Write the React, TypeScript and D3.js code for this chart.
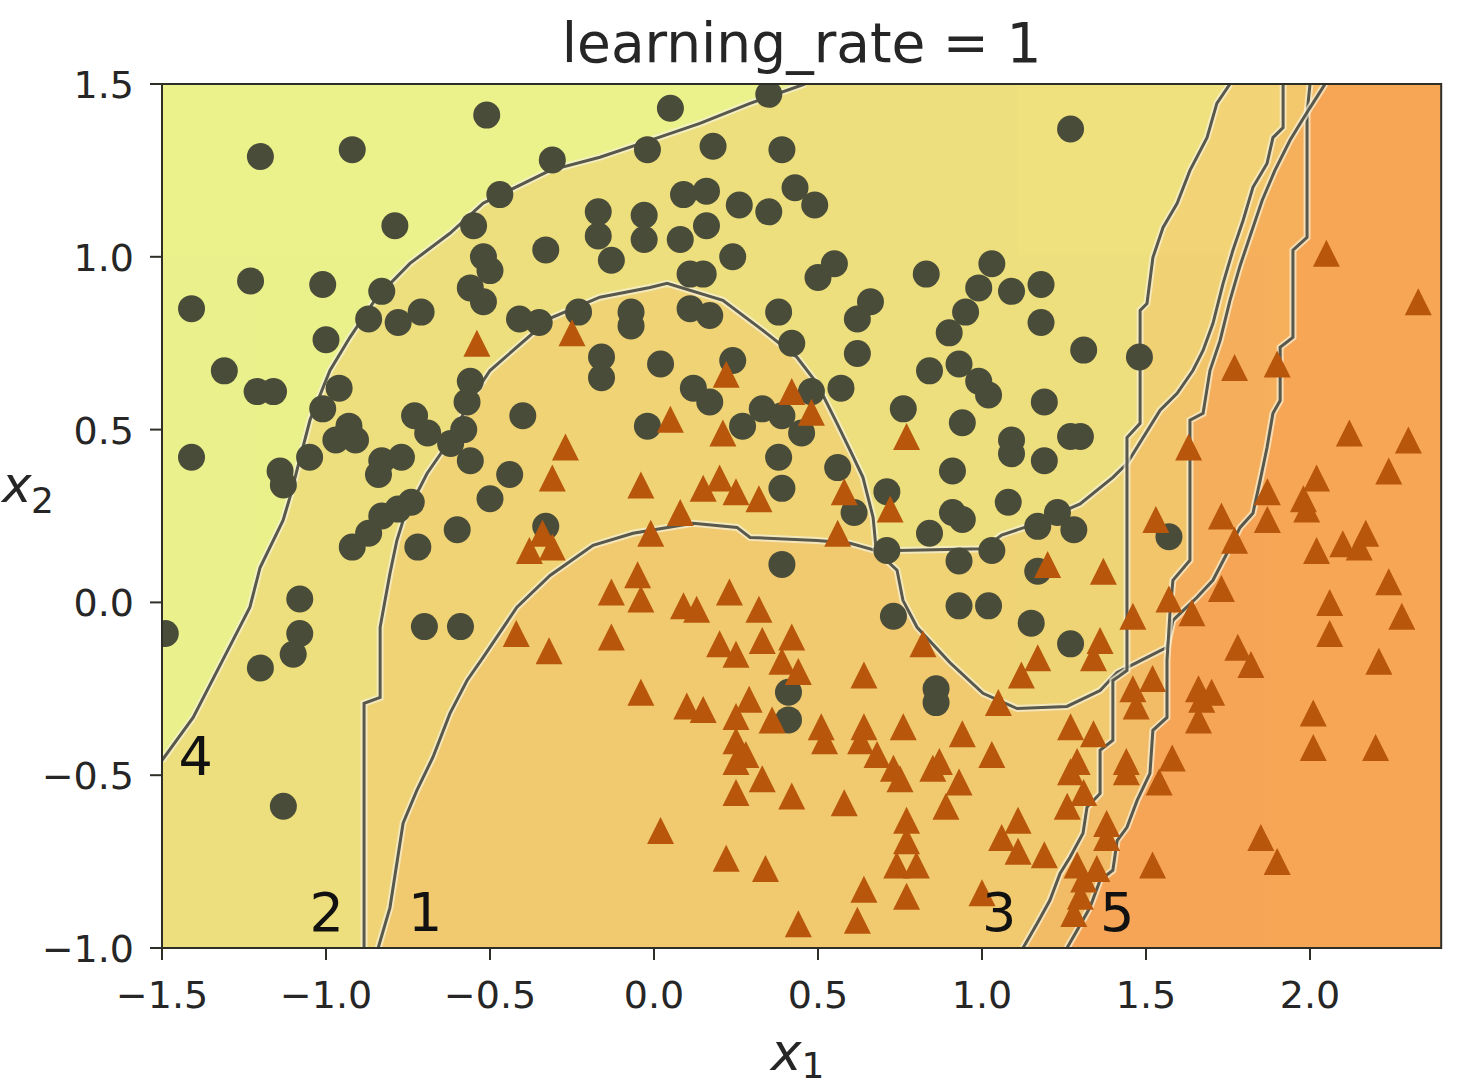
import React from 'react';
import * as d3 from 'd3';

const W = 1468;
const H = 1087;

const xDomain: [number, number] = [-1.5, 2.4];
const yDomain: [number, number] = [-1, 1.5];
const xTicks = [-1.5, -1.0, -0.5, 0.0, 0.5, 1.0, 1.5, 2.0];
const yTicks = [-1.0, -0.5, 0.0, 0.5, 1.0, 1.5];
const title = 'learning_rate = 1';

// decision boundaries of the 5 successive predictors (data coords)
const boundary1 = [
  [-0.841, -1], [-0.805, -0.883], [-0.765, -0.639], [-0.723, -0.544], [-0.674, -0.448], [-0.622, -0.321],
  [-0.57, -0.226], [-0.521, -0.159], [-0.418, -0.014], [-0.317, 0.078], [-0.186, 0.165], [-0.064, 0.2],
  [0.119, 0.229], [0.253, 0.217], [0.293, 0.188], [0.497, 0.179], [0.598, 0.171], [0.677, 0.15],
  [0.741, 0.093], [0.759, 0.006], [0.802, -0.072], [0.902, -0.174], [1.003, -0.263], [1.107, -0.307],
  [1.259, -0.301], [1.36, -0.255], [1.412, -0.203], [1.503, -0.159], [1.564, -0.13], [1.582, -0.052],
  [1.655, 0.014], [1.704, 0.064], [1.756, 0.159], [1.787, 0.217], [1.826, 0.258], [1.848, 0.353],
  [1.869, 0.448], [1.887, 0.547], [1.909, 0.584], [1.909, 0.738], [1.948, 0.767], [1.948, 1.019],
  [1.991, 1.056], [1.991, 1.415], [2.0, 1.5],
];
const boundary2 = [
  [-0.884, -1], [-0.884, -0.292], [-0.835, -0.275], [-0.835, -0.072], [-0.805, 0.084], [-0.784, 0.179],
  [-0.765, 0.237], [-0.692, 0.373], [-0.622, 0.469], [-0.561, 0.584], [-0.5, 0.671], [-0.317, 0.822],
  [-0.165, 0.883], [-0.012, 0.911], [0.04, 0.923], [0.21, 0.874], [0.332, 0.787], [0.436, 0.709],
  [0.497, 0.634], [0.558, 0.518], [0.598, 0.44], [0.637, 0.362], [0.668, 0.246], [0.677, 0.156],
  [0.741, 0.15], [1.003, 0.155], [1.06, 0.195], [1.155, 0.225], [1.299, 0.285], [1.399, 0.362],
  [1.442, 0.402], [1.543, 0.556], [1.595, 0.605], [1.643, 0.671], [1.674, 0.729], [1.704, 0.807],
  [1.735, 0.923], [1.765, 1.019], [1.796, 1.105], [1.826, 1.201], [1.869, 1.27], [1.887, 1.345],
  [1.918, 1.374], [1.918, 1.5],
];
const boundary3 = [
  [1.756, 1.5], [1.716, 1.444], [1.686, 1.345], [1.634, 1.25], [1.595, 1.155], [1.552, 1.085],
  [1.521, 0.998], [1.503, 0.865], [1.482, 0.845], [1.482, 0.518], [1.442, 0.477], [1.442, -0.197],
  [1.399, -0.226], [1.399, -0.399], [1.36, -0.428], [1.36, -0.553], [1.32, -0.593], [1.308, -0.668],
  [1.268, -0.738], [1.238, -0.784], [1.207, -0.862], [1.168, -0.929], [1.125, -1],
];
const boundary4 = [
  [-1.5, -0.457], [-1.405, -0.333], [-1.284, -0.11], [-1.232, -0.014], [-1.201, 0.101], [-1.131, 0.237],
  [-1.11, 0.304], [-1.049, 0.527], [-0.988, 0.671], [-0.927, 0.767], [-0.845, 0.883], [-0.744, 0.981],
  [-0.622, 1.068], [-0.521, 1.155], [-0.317, 1.25], [-0.165, 1.288], [-0.012, 1.337], [0.14, 1.386],
  [0.293, 1.444], [0.46, 1.5],
];
const boundary5 = [
  [1.259, -1], [1.29, -0.949], [1.329, -0.883], [1.36, -0.804], [1.399, -0.775], [1.412, -0.689],
  [1.442, -0.651], [1.473, -0.573], [1.512, -0.495], [1.521, -0.37], [1.564, -0.333], [1.564, -0.168],
  [1.573, -0.032], [1.582, 0.064], [1.634, 0.122], [1.634, 0.527], [1.674, 0.547], [1.695, 0.671],
  [1.726, 0.758], [1.756, 0.874], [1.787, 0.975], [1.823, 1.076], [1.854, 1.163], [1.893, 1.25],
  [1.939, 1.337], [1.985, 1.409], [2.024, 1.467], [2.046, 1.5],
];
// corners of the axes box closing each predictor's "class 1" side
const closing1 = [[2.4, 1.5], [2.4, -1]];
const closing2 = [[2.4, 1.5], [2.4, -1]];
const closing3 = [[2.4, -1], [2.4, 1.5]];
const closing4 = [[2.4, 1.5], [2.4, -1], [-1.5, -1]];
const closing5 = [[2.4, 1.5], [2.4, -1]];

const predictorLabels = ['1', '2', '3', '4', '5'];
const labelX = [-0.75, -1.05, 1.0, -1.45, 1.36];
const labelY = [-0.95, -0.95, -0.95, -0.5, -0.95];

// class 0 (circles)
const class0 = [
  [-1.20, 1.29], [-0.92, 1.31], [-0.51, 1.41], [-0.31, 1.28], [-0.47, 1.18], [-0.79, 1.09], [-0.33, 1.02],
  [-0.55, 1.09], [-0.52, 1.00], [-0.50, 0.96], [-0.56, 0.91], [-0.52, 0.87], [-1.23, 0.93], [-1.01, 0.92],
  [-1.41, 0.85], [-0.83, 0.90], [-0.87, 0.82], [-0.78, 0.81], [-0.71, 0.84], [-1.00, 0.76], [-1.31, 0.67],
  [-1.21, 0.61], [-1.16, 0.61], [-0.96, 0.62], [-1.01, 0.56], [-0.93, 0.51], [-0.73, 0.54], [-0.69, 0.49],
  [-0.56, 0.64], [-0.57, 0.58], [-0.41, 0.82], [-0.35, 0.81], [-0.23, 0.84], [-0.17, 1.13], [-0.17, 1.06],
  [-0.40, 0.54], [-0.58, 0.50],
  [-1.41, 0.42], [-1.14, 0.38], [-1.13, 0.34], [-1.05, 0.42], [-0.97, 0.47], [-0.91, 0.47], [-0.83, 0.41],
  [-0.84, 0.37], [-0.77, 0.42], [-0.62, 0.46], [-0.56, 0.41], [-0.44, 0.37], [-0.50, 0.30], [-0.60, 0.21],
  [-0.72, 0.16], [-0.92, 0.16], [-0.87, 0.20], [-0.83, 0.25], [-0.74, 0.29], [-0.78, 0.27], [-1.08, 0.01],
  [-1.08, -0.09], [-1.10, -0.15], [-1.20, -0.19], [-0.70, -0.07], [-0.59, -0.07], [-1.49, -0.09],
  [-1.13, -0.59], [-0.33, 0.22],
  [0.05, 1.43], [0.35, 1.47], [-0.02, 1.31], [0.18, 1.32], [0.39, 1.31], [-0.03, 1.12], [0.09, 1.18],
  [0.16, 1.19], [0.26, 1.15], [0.35, 1.13], [0.43, 1.20], [0.49, 1.15], [-0.03, 1.05], [0.08, 1.05],
  [0.16, 1.09], [1.27, 1.37],
  [-0.13, 0.99], [0.11, 0.95], [0.15, 0.95], [0.24, 1.00], [0.50, 0.94], [0.55, 0.98], [0.83, 0.95],
  [1.03, 0.98], [0.99, 0.91], [1.09, 0.90], [1.18, 0.92], [-0.07, 0.84], [-0.07, 0.80], [0.11, 0.85],
  [0.17, 0.83], [0.38, 0.84], [0.42, 0.75], [0.66, 0.87], [0.62, 0.82], [0.62, 0.72], [0.95, 0.84],
  [0.90, 0.78], [1.18, 0.81], [-0.16, 0.71], [-0.16, 0.65], [0.02, 0.69], [0.24, 0.70], [0.12, 0.62],
  [0.17, 0.58], [0.57, 0.62], [0.48, 0.61], [0.84, 0.67], [0.93, 0.69], [0.99, 0.64], [1.02, 0.60],
  [0.76, 0.56], [1.19, 0.58], [-0.02, 0.51], [0.27, 0.51], [0.33, 0.56], [0.39, 0.54], [0.45, 0.49],
  [0.38, 0.42], [0.94, 0.52], [1.09, 0.47], [1.09, 0.43], [1.19, 0.41], [0.56, 0.39], [0.91, 0.38],
  [0.39, 0.33], [0.71, 0.32], [0.61, 0.26], [1.08, 0.29], [0.91, 0.26], [0.94, 0.24], [0.84, 0.20],
  [1.17, 0.22], [0.71, 0.15], [0.93, 0.12], [1.03, 0.15], [0.39, 0.11],
  [1.31, 0.73], [1.48, 0.71], [1.27, 0.48], [1.30, 0.48], [1.23, 0.26], [1.28, 0.21], [1.15, -0.06],
  [1.27, -0.12], [1.57, 0.19], [1.17, 0.09], [0.93, -0.01], [1.02, -0.01], [0.73, -0.04], [0.86, -0.25],
  [0.86, -0.29], [0.41, -0.34], [0.41, -0.26],
];

// class 1 (triangles)
const class1 = [
  [-0.54, 0.75], [-0.25, 0.78], [-0.27, 0.45], [-0.31, 0.36], [-0.34, 0.20], [-0.38, 0.15], [-0.31, 0.16],
  [-0.42, -0.09], [-0.32, -0.14],
  [0.22, 0.66], [0.42, 0.61], [0.48, 0.55], [0.05, 0.53], [0.21, 0.49], [0.58, 0.32], [0.77, 0.48],
  [-0.04, 0.34], [0.15, 0.33], [0.20, 0.36], [0.25, 0.32], [0.32, 0.30], [0.08, 0.26], [-0.01, 0.20],
  [0.56, 0.20], [0.72, 0.27], [-0.05, 0.08], [-0.13, 0.03], [-0.04, 0.01], [0.23, 0.03], [1.20, 0.11],
  [-0.13, -0.10], [0.09, -0.01], [0.13, -0.02], [0.32, -0.02], [0.20, -0.12], [0.25, -0.15], [0.33, -0.11],
  [0.42, -0.10], [0.39, -0.17], [0.44, -0.20],
  [-0.04, -0.26], [0.10, -0.30], [0.15, -0.31], [0.25, -0.33], [0.29, -0.28], [0.25, -0.40], [0.28, -0.44],
  [0.25, -0.46], [0.33, -0.51], [0.25, -0.55], [0.36, -0.34], [0.42, -0.56], [0.51, -0.36], [0.52, -0.40],
  [0.64, -0.21], [0.64, -0.36], [0.63, -0.40], [0.68, -0.44], [0.76, -0.36], [0.73, -0.48], [0.75, -0.51],
  [0.85, -0.48], [0.87, -0.46], [0.94, -0.38], [1.03, -0.44], [0.93, -0.52], [0.77, -0.63], [0.77, -0.69],
  [0.89, -0.59], [0.58, -0.58], [0.74, -0.76], [0.80, -0.76], [0.77, -0.85], [0.02, -0.66], [0.22, -0.74],
  [0.34, -0.77], [0.64, -0.83], [0.62, -0.92], [0.44, -0.93], [1.00, -0.84], [1.06, -0.68], [1.11, -0.63],
  [1.11, -0.72], [0.82, -0.12], [1.05, -0.29], [1.12, -0.21], [1.17, -0.16],
  [1.27, -0.36], [1.34, -0.38], [1.27, -0.49], [1.31, -0.55], [1.26, -0.59], [1.19, -0.73], [1.44, -0.46],
  [1.44, -0.49], [1.54, -0.52], [1.38, -0.68], [1.31, -0.80], [1.28, -0.90], [1.52, -0.76], [1.47, -0.30],
  [1.52, -0.22], [1.34, -0.16], [1.58, -0.45],
  [1.63, 0.45], [2.12, 0.49], [2.30, 0.47], [2.24, 0.38], [2.02, 0.36], [1.98, 0.30], [1.99, 0.27],
  [1.87, 0.32], [1.87, 0.24], [1.73, 0.25], [1.77, 0.18], [2.02, 0.15], [2.10, 0.17], [2.17, 0.20],
  [2.15, 0.16], [2.24, 0.06], [2.28, -0.04], [2.06, 0.00], [2.06, -0.09], [2.21, -0.17], [1.78, -0.13],
  [1.82, -0.18], [1.66, -0.25], [1.67, -0.28], [1.70, -0.26], [1.66, -0.34], [2.01, -0.32], [2.01, -0.42],
  [2.20, -0.42], [1.85, -0.68], [1.90, -0.75], [1.73, 0.04], [1.64, -0.03], [1.57, 0.01], [1.53, 0.24],
  [1.46, -0.04], [1.36, -0.11], [1.37, 0.09], [1.46, -0.25], [1.29, -0.46], [1.38, -0.64], [1.29, -0.76],
  [1.35, -0.77], [1.30, -0.85],
  [2.05, 1.01], [2.33, 0.87], [1.77, 0.68], [1.90, 0.69],
];

const boundaries = [boundary1, boundary2, boundary3, boundary4, boundary5];
const closings = [closing1, closing2, closing3, closing4, closing5];

const COLOR0 = '#e3ed57';
const COLOR1 = '#f57c07';
const LAYER_ALPHA = 0.2;
const FONT = 'DejaVu Sans, sans-serif';

export default function App() {
  const x = d3.scaleLinear().domain(xDomain).range([162, 1441.2]);
  const y = d3.scaleLinear().domain(yDomain).range([948, 84]);
  const line = d3.line<number[]>().x((d) => x(d[0])).y((d) => y(d[1]));
  const fmt = (v: number) => d3.format('.1f')(v).replace('-', '\u2212');
  const [x0, x1] = x.range();
  const [yb, yt] = y.range();
  const ms = 27;
  const tri = (d: number[]) => {
    const cx = x(d[0]);
    const cy = y(d[1]);
    const h = ms / 2;
    return `M${cx},${cy - h}L${cx - h},${cy + h}L${cx + h},${cy + h}Z`;
  };

  return (
    <svg width={W} height={H} style={{ position: 'absolute', left: 0, top: 0, background: '#fff' }} fontFamily={FONT}>
      <defs>
        <clipPath id="plotclip">
          <rect x={x0} y={yt} width={x1 - x0} height={yb - yt} />
        </clipPath>
      </defs>
      <rect x={0} y={0} width={W} height={H} fill="#ffffff" />
      <g clipPath="url(#plotclip)">
        {boundaries.map((b, i) => (
          <g key={'layer' + i} opacity={LAYER_ALPHA}>
            <rect x={x0} y={yt} width={x1 - x0} height={yb - yt} fill={COLOR0} />
            <path d={line([...b, ...closings[i]]) + 'Z'} fill={COLOR1} />
          </g>
        ))}
        {boundaries.map((b, i) => (
          <g key={'bl' + i}>
            <path d={line(b) || ''} fill="none" stroke="#f6f2dc" strokeOpacity={0.7} strokeWidth={7} strokeLinejoin="miter" />
            <path d={line(b) || ''} fill="none" stroke="#58584c" strokeWidth={3} strokeLinejoin="miter" />
          </g>
        ))}
        {class0.map((d, i) => (
          <circle key={'c' + i} cx={x(d[0])} cy={y(d[1])} r={ms / 2} fill="#4a4c3a" />
        ))}
        {class1.map((d, i) => (
          <path key={'t' + i} d={tri(d)} fill="#b8570c" />
        ))}
      </g>
      {predictorLabels.map((t, i) => (
        <text key={'lab' + i} x={x(labelX[i])} y={y(labelY[i])} fontSize={54} fill="#111">
          {t}
        </text>
      ))}
      <rect x={x0} y={yt} width={x1 - x0} height={yb - yt} fill="none" stroke="#2e2e28" strokeWidth={2} />
      {xTicks.map((t) => (
        <g key={'xt' + t}>
          <line x1={x(t)} x2={x(t)} y1={yb} y2={yb + 12} stroke="#2e2e28" strokeWidth={2} />
          <text x={x(t)} y={1008} textAnchor="middle" fontSize={38} fill="#262626">
            {fmt(t)}
          </text>
        </g>
      ))}
      {yTicks.map((t) => (
        <g key={'yt' + t}>
          <line x1={x0 - 12} x2={x0} y1={y(t)} y2={y(t)} stroke="#2e2e28" strokeWidth={2} />
          <text x={134} y={y(t) + 14} textAnchor="end" fontSize={38} fill="#262626">
            {fmt(t)}
          </text>
        </g>
      ))}
      <text x={(x0 + x1) / 2} y={62} textAnchor="middle" fontSize={55} fill="#262626">
        {title}
      </text>
      <text x={(x0 + x1) / 2 - 4} y={1070} textAnchor="middle" fontSize={52} fill="#262626">
        <tspan fontStyle="italic">x</tspan>
        <tspan fontSize={36} dy={8}>1</tspan>
      </text>
      <text x={2} y={502} fontSize={50} fontStyle="italic" fill="#262626">
        x
      </text>
      <text x={31} y={513} fontSize={36} fill="#262626">
        2
      </text>
    </svg>
  );
}
